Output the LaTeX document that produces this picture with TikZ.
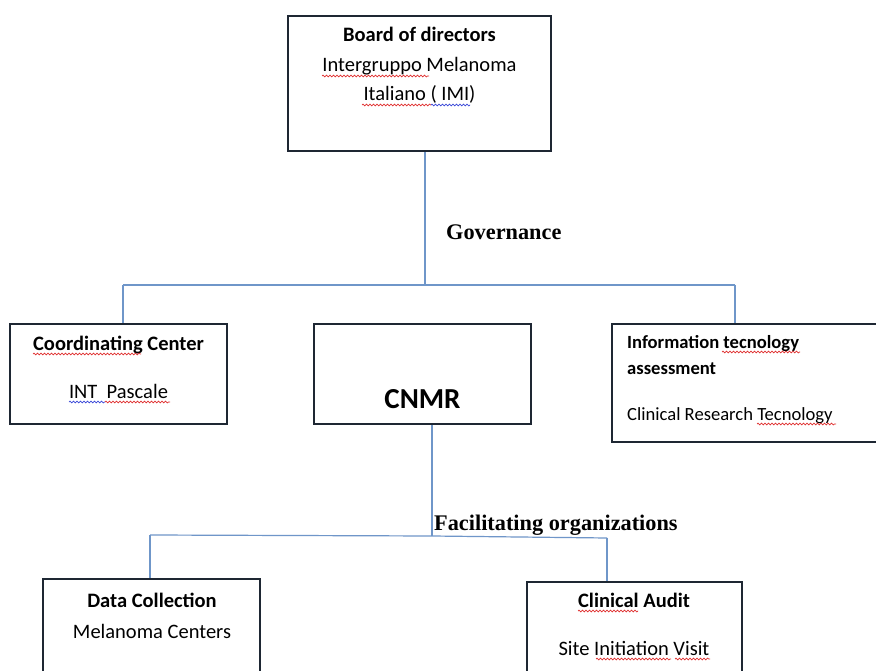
\documentclass[tikz,border=0pt]{standalone}
\usepackage{fontspec}
\setmainfont{Carlito}
\newfontfamily\tnr{Liberation Serif}
\usetikzlibrary{decorations.pathmorphing}
\definecolor{boxline}{HTML}{1E2733}
\definecolor{connc}{HTML}{6F96C9}
\definecolor{spellred}{HTML}{E03030}
\definecolor{spellblue}{HTML}{3A48D8}
\tikzset{
  box/.style={draw=boxline, line width=2pt, fill=white, inner sep=0pt},
  conn/.style={draw=connc, line width=1.2pt},
  tx/.style={inner sep=0pt, anchor=base, font=\fontsize{20.5}{24}\selectfont},
  txb/.style={tx, font=\fontsize{20.5}{24}\selectfont\bfseries},
  sm/.style={inner sep=0pt, anchor=base west, font=\fontsize{18.6}{22}\selectfont},
  smb/.style={sm, font=\fontsize{18.6}{22}\selectfont\bfseries},
  lab/.style={inner sep=0pt, anchor=base west, font=\tnr\bfseries\fontsize{22.3}{26}\selectfont},
  sqr/.style={draw=spellred, line width=0.7pt, decorate, decoration={snake, amplitude=0.9pt, segment length=3.5pt}},
  sqb/.style={sqr, draw=spellblue}
}
\begin{document}
\begin{tikzpicture}[x=1pt, y=-1pt]
\useasboundingbox (0,0) rectangle (876,671);
\clip (0,0) rectangle (876,671);
\fill[white] (0,0) rectangle (876,671);

% boxes
\node[box, line width=2.5pt, minimum width=263pt, minimum height=135pt] (board) at (419.5,83.5) {};
\node[box, minimum width=217pt, minimum height=100pt] (coord) at (118.5,374) {};
\node[box, minimum width=217pt, minimum height=100pt] (cnmr) at (422.5,374) {};
\node[box, minimum width=278pt, minimum height=118pt] (info) at (751,383) {};
\node[box, minimum width=217pt, minimum height=121pt] (data) at (151.5,639.5) {};
\node[box, minimum width=215pt, minimum height=118pt] (audit) at (634.5,641) {};

% connectors
\coordinate (gj) at (425,285);
\coordinate (gl) at (123,285);
\coordinate (gr) at (735,285);
\draw[conn] (board.south -| gj) -- (gj);
\draw[conn] (gl) -- (gr);
\draw[conn] (gl) -- (gl |- coord.north);
\draw[conn] (gr) -- (gr |- info.north);
\coordinate (fj) at (432,536);
\coordinate (fl) at (150,535);
\coordinate (fr) at (607,538);
\draw[conn] (cnmr.south -| fj) -- (fj);
\draw[conn] (fl) -- (fj) -- (fr);
\draw[conn] (fl) -- (fl |- data.north);
\draw[conn] (fr) -- (fr |- audit.north);

% labels
\node[lab] (gov) at (446,240) {Governance};
\node[lab] (fac) at (434,530) {Facilitating organizations};

% board text
\node[txb] (b1) at (419.5,42) {Board of directors};
\node[tx] (b2) at (419.5,72) {Intergruppo Melanoma};
\node[tx] (b3) at (419.5,101) {Italiano ( IMI)};
\draw[sqr] (322,76) -- (429,76);
\draw[sqr] (362,105) -- (431,105);
\draw[sqb] (431,105) -- (470,105);

% coordinating
\node[txb] (c1) at (118.5,350) {Coordinating Center};
\node[tx] (c2) at (118.5,398) {INT\ \ Pascale};
\draw[sqr] (33,354) -- (141,354);
\draw[sqb] (69,402) -- (105,402);
\draw[sqr] (105,402) -- (170,402);

% CNMR
\node[inner sep=0pt, anchor=base, font=\fontsize{29}{34}\selectfont\bfseries] (n1) at (422.5,408) {CNMR};

% info
\node[smb] (i1) at (627,348) {Information tecnology};
\node[smb] (i2) at (627,374) {assessment};
\node[sm] (i3) at (627,420) {Clinical Research Tecnology};
\draw[sqr] (722,352) -- (800,352);
\draw[sqr] (757,424) -- (836,424);

% data collection
\node[txb] (d1) at (152,607) {Data Collection};
\node[tx] (d2) at (152,638) {Melanoma Centers};

% clinical audit
\node[txb] (a1) at (634,607) {Clinical Audit};
\node[tx] (a2) at (634,655) {Site Initiation Visit};
\draw[sqr] (578,611) -- (638,611);
\draw[sqr] (596,659) -- (671,659);
\draw[sqr] (675,659) -- (710,659);
\end{tikzpicture}
\end{document}
